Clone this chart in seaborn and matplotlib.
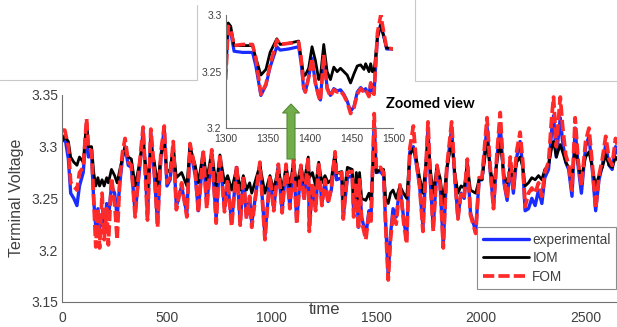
import matplotlib
matplotlib.use("Agg")
import matplotlib.pyplot as plt
import seaborn as sns
from matplotlib.lines import Line2D
from matplotlib.patches import Polygon

# main trace (time, experimental, IOM, FOM)
t_main = [0, 12, 29, 40, 55, 70, 82, 100, 116, 125, 140, 150, 160, 170, 178, 190, 200, 212, 220, 235,
          250, 262, 275, 288, 300, 315, 330, 348, 365, 386, 398, 407, 423, 440, 455, 471, 487, 500, 515, 530,
          545, 570, 595, 610, 635, 650, 673, 690, 714, 735, 753, 775, 790, 809, 833, 850, 865, 880, 895, 905,
          944, 968, 992, 1010, 1032, 1050, 1069, 1087, 1105, 1120, 1140, 1155, 1175, 1180, 1195, 1210, 1225, 1240, 1255, 1270,
          1285, 1303, 1310, 1335, 1342, 1362, 1385, 1392, 1405, 1415, 1420, 1430, 1450, 1465, 1475, 1490, 1500, 1520, 1535, 1545,
          1557, 1568, 1580, 1595, 1613, 1630, 1645, 1660, 1677, 1690, 1707, 1723, 1747, 1760, 1772, 1790, 1805, 1820, 1836, 1860,
          1875, 1890, 1905, 1920, 1935, 1950, 1975, 1991, 2005, 2029, 2045, 2060, 2076, 2092, 2110, 2125, 2140, 2155, 2171, 2187,
          2200, 2211, 2227, 2243, 2259, 2275, 2291, 2305, 2323, 2339, 2347, 2360, 2379, 2390, 2405, 2419, 2435, 2450, 2465, 2480,
          2500, 2516, 2532, 2548, 2564, 2580, 2596, 2612, 2627, 2643, 2660]
v_exp = [3.310, 3.310, 3.288, 3.255, 3.250, 3.243, 3.262, 3.275, 3.318, 3.290, 3.292, 3.248, 3.222, 3.240, 3.220, 3.235, 3.218, 3.245, 3.230, 3.262,
         3.255, 3.232, 3.265, 3.290, 3.300, 3.282, 3.280, 3.236, 3.270, 3.315, 3.272, 3.232, 3.313, 3.272, 3.226, 3.290, 3.318, 3.262, 3.268, 3.300,
         3.242, 3.262, 3.235, 3.300, 3.272, 3.238, 3.293, 3.245, 3.292, 3.230, 3.290, 3.240, 3.265, 3.227, 3.280, 3.226, 3.270, 3.232, 3.250, 3.226,
         3.283, 3.214, 3.270, 3.240, 3.281, 3.238, 3.282, 3.242, 3.285, 3.228, 3.280, 3.250, 3.288, 3.222, 3.262, 3.240, 3.282, 3.245, 3.265, 3.247,
         3.258, 3.292, 3.268, 3.270, 3.232, 3.270, 3.272, 3.236, 3.262, 3.222, 3.265, 3.232, 3.214, 3.238, 3.232, 3.325, 3.275, 3.276, 3.272, 3.225,
         3.175, 3.215, 3.240, 3.232, 3.262, 3.232, 3.210, 3.295, 3.300, 3.285, 3.262, 3.222, 3.318, 3.260, 3.222, 3.280, 3.262, 3.205, 3.275, 3.318,
         3.270, 3.232, 3.255, 3.250, 3.285, 3.236, 3.218, 3.268, 3.268, 3.320, 3.275, 3.242, 3.288, 3.322, 3.265, 3.248, 3.282, 3.255, 3.290, 3.305,
         3.280, 3.238, 3.240, 3.250, 3.243, 3.258, 3.245, 3.270, 3.278, 3.318, 3.330, 3.290, 3.328, 3.305, 3.285, 3.278, 3.252, 3.318, 3.280, 3.255,
         3.300, 3.310, 3.278, 3.238, 3.268, 3.282, 3.302, 3.282, 3.278, 3.300, 3.290]
v_iom = [3.305, 3.310, 3.305, 3.290, 3.285, 3.282, 3.290, 3.285, 3.325, 3.300, 3.300, 3.275, 3.262, 3.270, 3.262, 3.268, 3.262, 3.270, 3.265, 3.278,
         3.272, 3.265, 3.278, 3.290, 3.300, 3.290, 3.288, 3.262, 3.280, 3.305, 3.282, 3.260, 3.300, 3.285, 3.262, 3.292, 3.305, 3.275, 3.278, 3.300,
         3.270, 3.275, 3.262, 3.300, 3.282, 3.265, 3.295, 3.268, 3.295, 3.262, 3.292, 3.265, 3.272, 3.258, 3.280, 3.258, 3.272, 3.258, 3.265, 3.255,
         3.282, 3.255, 3.272, 3.258, 3.280, 3.258, 3.280, 3.262, 3.285, 3.262, 3.282, 3.265, 3.290, 3.270, 3.275, 3.262, 3.285, 3.265, 3.272, 3.265,
         3.268, 3.295, 3.274, 3.276, 3.248, 3.280, 3.278, 3.250, 3.275, 3.240, 3.275, 3.250, 3.248, 3.255, 3.248, 3.300, 3.275, 3.278, 3.278, 3.250,
         3.245, 3.255, 3.258, 3.250, 3.262, 3.255, 3.250, 3.292, 3.298, 3.290, 3.270, 3.255, 3.305, 3.275, 3.255, 3.280, 3.270, 3.245, 3.278, 3.305,
         3.275, 3.255, 3.262, 3.260, 3.282, 3.258, 3.255, 3.268, 3.268, 3.305, 3.278, 3.262, 3.285, 3.305, 3.272, 3.265, 3.280, 3.270, 3.285, 3.290,
         3.280, 3.262, 3.265, 3.270, 3.268, 3.272, 3.268, 3.278, 3.282, 3.300, 3.305, 3.290, 3.302, 3.295, 3.285, 3.280, 3.270, 3.300, 3.282, 3.270,
         3.290, 3.295, 3.280, 3.262, 3.272, 3.280, 3.292, 3.282, 3.280, 3.290, 3.285]
v_fom = [3.316, 3.316, 3.300, 3.265, 3.262, 3.258, 3.275, 3.280, 3.327, 3.298, 3.296, 3.250, 3.203, 3.240, 3.202, 3.255, 3.210, 3.240, 3.205, 3.270,
         3.245, 3.210, 3.270, 3.295, 3.308, 3.285, 3.282, 3.232, 3.275, 3.319, 3.268, 3.229, 3.317, 3.275, 3.222, 3.295, 3.320, 3.265, 3.270, 3.305,
         3.239, 3.265, 3.232, 3.303, 3.278, 3.236, 3.297, 3.240, 3.297, 3.226, 3.293, 3.237, 3.268, 3.223, 3.282, 3.224, 3.272, 3.230, 3.252, 3.222,
         3.285, 3.210, 3.272, 3.238, 3.283, 3.236, 3.283, 3.240, 3.288, 3.225, 3.282, 3.248, 3.290, 3.218, 3.265, 3.238, 3.285, 3.243, 3.268, 3.245,
         3.260, 3.295, 3.272, 3.275, 3.230, 3.275, 3.276, 3.232, 3.265, 3.220, 3.268, 3.228, 3.210, 3.235, 3.228, 3.332, 3.278, 3.280, 3.275, 3.222,
         3.171, 3.210, 3.235, 3.225, 3.263, 3.228, 3.206, 3.298, 3.320, 3.288, 3.262, 3.218, 3.324, 3.262, 3.218, 3.282, 3.264, 3.202, 3.278, 3.324,
         3.272, 3.230, 3.256, 3.252, 3.288, 3.234, 3.216, 3.270, 3.270, 3.328, 3.278, 3.240, 3.292, 3.333, 3.268, 3.250, 3.290, 3.260, 3.296, 3.314,
         3.285, 3.242, 3.255, 3.260, 3.255, 3.265, 3.252, 3.275, 3.285, 3.331, 3.348, 3.300, 3.348, 3.320, 3.292, 3.283, 3.258, 3.328, 3.285, 3.262,
         3.305, 3.318, 3.283, 3.240, 3.272, 3.288, 3.310, 3.288, 3.282, 3.308, 3.295]

# zoomed window 1300-1500
t_zoom = [1300, 1303, 1306, 1310, 1320, 1332, 1336, 1342, 1348, 1353, 1361, 1365, 1375, 1387, 1390, 1393, 1395, 1399, 1403, 1407,
          1411, 1413, 1417, 1421, 1425, 1429, 1433, 1437, 1441, 1445, 1449, 1453, 1457, 1461, 1465, 1467, 1471, 1473, 1475, 1477,
          1481, 1485, 1489, 1492, 1500]
z_fom = [3.243, 3.290, 3.287, 3.273, 3.274, 3.274, 3.262, 3.230, 3.239, 3.256, 3.278, 3.274, 3.275, 3.276, 3.262, 3.237, 3.232, 3.245, 3.262, 3.240,
         3.228, 3.224, 3.265, 3.235, 3.228, 3.234, 3.232, 3.233, 3.229, 3.223, 3.213, 3.218, 3.230, 3.235, 3.232, 3.234, 3.228, 3.240, 3.232, 3.230,
         3.284, 3.300, 3.283, 3.271, 3.270]
z_iom = [3.263, 3.293, 3.290, 3.273, 3.273, 3.273, 3.262, 3.247, 3.252, 3.267, 3.279, 3.274, 3.275, 3.277, 3.262, 3.246, 3.247, 3.253, 3.272, 3.260,
         3.243, 3.245, 3.274, 3.250, 3.243, 3.254, 3.250, 3.253, 3.250, 3.247, 3.240, 3.248, 3.255, 3.256, 3.252, 3.257, 3.250, 3.257, 3.250, 3.250,
         3.280, 3.291, 3.280, 3.271, 3.270]
z_exp = [3.250, 3.288, 3.285, 3.268, 3.267, 3.267, 3.255, 3.229, 3.238, 3.254, 3.272, 3.269, 3.270, 3.272, 3.258, 3.235, 3.232, 3.245, 3.262, 3.240,
         3.228, 3.225, 3.264, 3.236, 3.229, 3.235, 3.233, 3.234, 3.230, 3.224, 3.215, 3.219, 3.232, 3.236, 3.233, 3.235, 3.229, 3.240, 3.233, 3.231,
         3.280, 3.292, 3.280, 3.270, 3.270]

BLUE = "#1a2cff"
RED = "#ff2b2b"
TXT = "#404040"
W, H = 617, 327


def fx(px):
    return px / W


def fy(py):
    return 1 - py / H


sns.set_theme(style="white")
plt.rcParams["font.family"] = ["Liberation Sans", "DejaVu Sans"]
plt.rcParams["axes.edgecolor"] = "#707070"
plt.rcParams["axes.linewidth"] = 0.8

fig = plt.figure(figsize=(W / 100, H / 100), dpi=100)
ax = fig.add_axes([fx(62.3), fy(301.7), fx(617) - fx(62.3), fy(95) - fy(301.7)])

sns.lineplot(x=t_main, y=v_exp, color=BLUE, lw=2.4, ax=ax, label="experimental", estimator=None, sort=False)
sns.lineplot(x=t_main, y=v_iom, color="black", lw=2.0, ax=ax, label="IOM", estimator=None, sort=False)
sns.lineplot(x=t_main, y=v_fom, color=RED, lw=2.7, ax=ax, label="FOM", estimator=None, sort=False,
             linestyle=(0, (3.0, 1.1)))

ax.set_xlim(0, 2650)
ax.set_ylim(3.15, 3.35)
ax.set_xticks([0, 500, 1000, 1500, 2000, 2500])
ax.set_yticks([3.15, 3.2, 3.25, 3.3, 3.35])
ax.set_yticklabels(["3.15", "3.2", "3.25", "3.3", "3.35"])
ax.tick_params(direction="in", length=4, width=0.8, colors="#707070", labelcolor=TXT, labelsize=10)
ax.tick_params(axis="x", pad=7)
ax.tick_params(axis="y", pad=3)
ax.spines["top"].set_visible(False)
ax.spines["right"].set_visible(False)
ax.set_xlabel("time", fontsize=12, color=TXT)
ax.xaxis.set_label_coords(0.472, -0.04)
ax.xaxis.label.set_va("center")
ax.set_ylabel("Terminal Voltage", fontsize=11.5, color=TXT)
ax.yaxis.set_label_coords(-0.0817, 0.504)
ax.yaxis.label.set_va("center")

leg = ax.legend(loc="lower left", bbox_to_anchor=(0.748, 0.061), borderaxespad=0, fontsize=9.8,
                frameon=True, fancybox=False, edgecolor="#707070", handlelength=3.4,
                handletextpad=0.25, labelspacing=0.33, borderpad=0.4)
leg.get_frame().set_linewidth(0.8)
for txt in leg.get_texts():
    txt.set_color(TXT)

# inset with the zoomed window
ins = fig.add_axes([fx(225.7), fy(128.3), fx(393.3) - fx(225.7), fy(15) - fy(128.3)], zorder=3)
ins.patch.set_alpha(0)
sns.lineplot(x=t_zoom, y=z_exp, color=BLUE, lw=2.3, ax=ins, estimator=None, sort=False)
sns.lineplot(x=t_zoom, y=z_iom, color="black", lw=2.0, ax=ins, estimator=None, sort=False)
sns.lineplot(x=t_zoom, y=z_fom, color=RED, lw=2.6, ax=ins, estimator=None, sort=False,
             linestyle=(0, (3.0, 1.1)))
ins.set_xlim(1300, 1500)
ins.set_ylim(3.2, 3.3)
ins.set_xticks([1300, 1350, 1400, 1450, 1500])
ins.set_yticks([3.2, 3.25, 3.3])
ins.set_yticklabels(["3.2", "3.25", "3.3"])
ins.tick_params(direction="in", length=2.5, width=0.7, colors="#707070", labelcolor=TXT, labelsize=7.5)
ins.tick_params(axis="x", pad=4)
ins.tick_params(axis="y", pad=3)
ins.spines["top"].set_visible(False)
ins.spines["right"].set_visible(False)
ins.set_xlabel("")
ins.set_ylabel("")

# frame lines of the pasted panel
fig.add_artist(Line2D([0, fx(197), fx(197)], [fy(80), fy(80), fy(5)], color="#c8c8c8", lw=0.8))
fig.add_artist(Line2D([fx(415), fx(415), 1], [fy(0), fy(80.5), fy(80.5)], color="#c8c8c8", lw=0.8))

# green arrow pointing to the inset
arrow_px = [(287, 159), (287, 113), (282.5, 113), (291, 104), (299.5, 113), (295, 113), (295, 159)]
fig.add_artist(Polygon([(fx(a), fy(b)) for a, b in arrow_px], closed=True,
                       facecolor="#72ad4c", edgecolor="#548a36", lw=0.8, zorder=5))

fig.text(fx(386), fy(104), "Zoomed view", fontsize=10.5, fontweight="bold", ha="left", va="center",
         family=["Lato", "DejaVu Sans"], color="black")

fig.savefig("out.png", dpi=100)
